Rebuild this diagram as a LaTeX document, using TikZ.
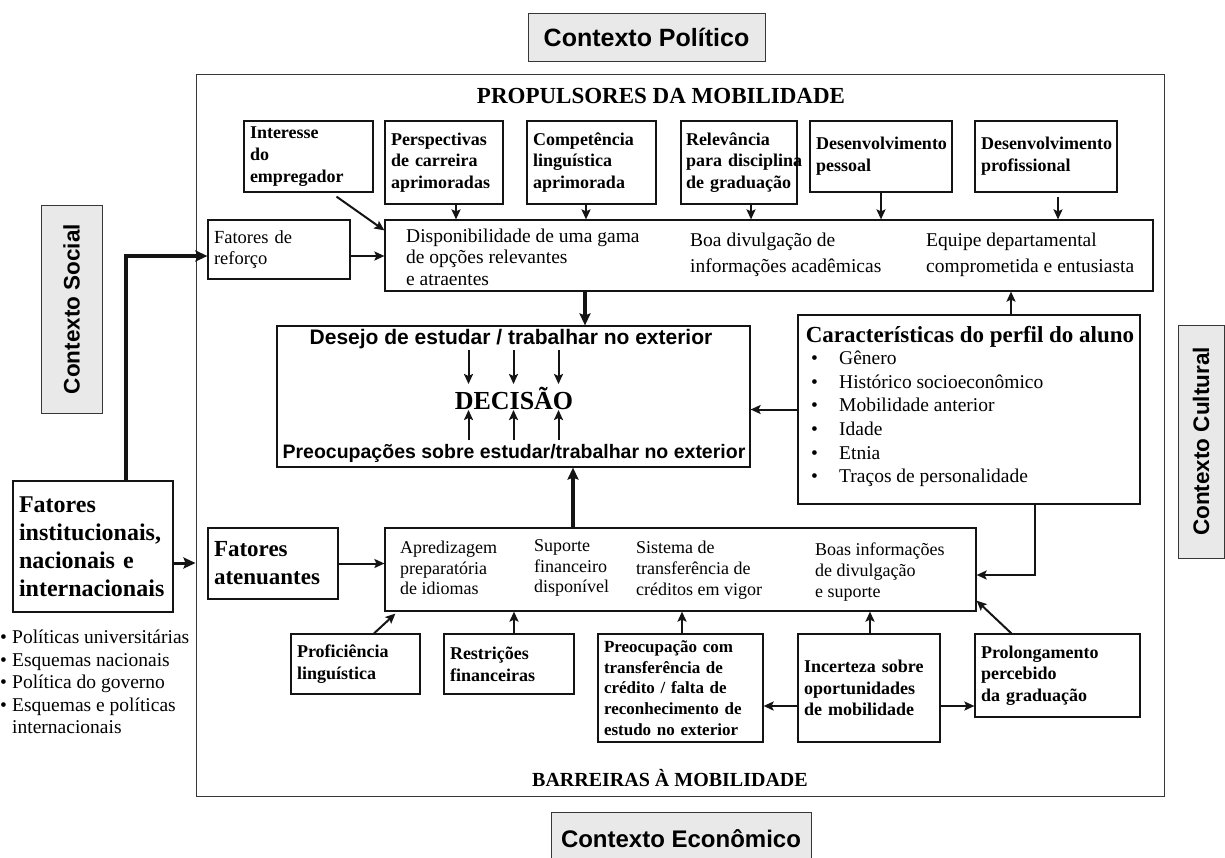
\documentclass[tikz,border=0pt]{standalone}
\usepackage{fontspec}
\setmainfont{Liberation Serif}
\setsansfont{Liberation Sans}
\usepackage{tikz}
\usetikzlibrary{arrows.meta, positioning, calc}
\definecolor{cinzactx}{RGB}{233,233,233}
\definecolor{traco}{RGB}{20,20,20}
\definecolor{borda}{RGB}{55,55,55}
\tikzset{
  ctxbox/.style={rectangle, draw=borda, fill=cinzactx, line width=1pt,
    inner sep=0pt, font=\sffamily\bfseries\fontsize{24}{28}\selectfont},
  caixa/.style={rectangle, draw=traco, line width=1.2pt, inner xsep=6pt,
    inner ysep=2pt, align=left, font=\bfseries\fontsize{18}{21.7}\selectfont},
  caixafina/.style={caixa, font=\fontsize{18.5}{21.7}\selectfont},
  vazio/.style={rectangle, draw=traco, line width=1.2pt, inner sep=0pt},
  texto/.style={inner sep=0pt, align=left, font=\fontsize{19.5}{21.5}\selectfont},
  textomenor/.style={inner sep=0pt, align=left, font=\fontsize{18}{20.8}\selectfont},
  titulo/.style={inner sep=0pt, font=\bfseries\fontsize{22}{26}\selectfont},
  arrow/.style={-{Stealth[length=10pt,width=9pt,inset=2pt]}, line width=2pt, color=traco},
  thickarrow/.style={-{Stealth[length=12pt,width=11pt,inset=2pt]}, line width=3.5pt, color=traco}
}

\begin{document}
\hyphenpenalty=10000
\begin{tikzpicture}[x=1pt, y=-1pt]
  \useasboundingbox (0,0) rectangle (1225,857);
  % contextos
  \node[ctxbox, minimum width=237pt, minimum height=48pt, font=\sffamily\bfseries\fontsize{25}{30}\selectfont] (politico) at (646.5,37) {Contexto Político};
  \node[ctxbox, minimum width=260pt, minimum height=54pt] (economico) at (681,839) {Contexto Econômico};
  \node[ctxbox, rotate=90, minimum width=208pt, minimum height=61pt, font=\sffamily\bfseries\fontsize{22.5}{26}\selectfont] (social) at (71.5,309) {Contexto Social};
  \node[ctxbox, rotate=90, minimum width=233pt, minimum height=46pt, font=\sffamily\bfseries\fontsize{22.5}{26}\selectfont] (cultural) at (1201,441.5) {Contexto Cultural};
  % moldura
  \node[draw=borda, line width=1pt, minimum width=968pt, minimum height=722pt] (moldura) at (680,435) {};
  \node[titulo, font=\bfseries\fontsize{23}{26}\selectfont] (propulsores) at (661,96) {PROPULSORES DA MOBILIDADE};
  \node[titulo, font=\bfseries\fontsize{20}{24}\selectfont] (barreiras) at (670,778) {BARREIRAS À MOBILIDADE};

  % propulsores
  \node[caixa, text width=117pt, minimum height=71pt] (interesse) at (308.5,156.5) {Interesse\\ do\\ empregador};
  \node[caixa, text width=106pt, minimum height=83pt] (persp) at (444,162.5) {Perspectivas\\ de~carreira\\ aprimoradas};
  \node[caixa, text width=117pt, minimum height=83pt] (compet) at (591.5,162.5) {Competência\\ linguística\\ aprimorada};
  \node[caixa, text width=106pt, minimum height=83pt, inner xsep=5pt] (relev) at (739,162.5) {Relevância\\ para~disciplina\\ de~graduação};
  \node[caixa, text width=130pt, minimum height=71pt] (desenvp) at (881,156.5) {Desenvolvimento\\ pessoal};
  \node[caixa, text width=130pt, minimum height=71pt] (desenvprof) at (1046,156.5) {Desenvolvimento\\ profissional};
  \node[caixafina, text width=130pt, minimum height=59pt] (reforco) at (279,249.5) {Fatores de\\ reforço};

  \node[vazio, minimum width=768pt, minimum height=71pt] (bigtop) at (769,255.5) {};
  \node[texto, anchor=west] (dispon) at (406,257) {Disponibilidade de uma gama\\ de opções relevantes\\ e atraentes};
  \node[texto, anchor=west, font=\fontsize{19.5}{26}\selectfont] (divulg) at (690,255) {Boa divulgação de\\ informações acadêmicas};
  \node[texto, anchor=west, font=\fontsize{19.5}{26}\selectfont] (equipe) at (926,255) {Equipe departamental\\ comprometida e entusiasta};

  % decisao
  \node[vazio, minimum width=473pt, minimum height=141pt] (desejo) at (513.5,396.5) {};
  \node[inner sep=0pt, font=\sffamily\bfseries\fontsize{21}{25}\selectfont] (desejotxt) at (511,339) {Desejo de estudar / trabalhar no exterior};
  \node[inner sep=0pt, font=\bfseries\fontsize{26}{30}\selectfont] (decisao) at (514,398) {DECISÃO};
  \node[inner sep=0pt, font=\sffamily\bfseries\fontsize{19.5}{23}\selectfont] (preocup) at (514,453) {Preocupações sobre estudar/trabalhar no exterior};
  \foreach \dx in {-45,0,45} {
    \draw[arrow] ($(desejo.center)+(\dx,-46.5)$) -- ($(desejo.center)+(\dx,-12.5)$);
    \draw[arrow] ($(desejo.center)+(\dx,43.5)$) -- ($(desejo.center)+(\dx,13.5)$);
  }

  % perfil do aluno
  \node[vazio, minimum width=342pt, minimum height=189pt] (caract) at (969,409.5) {};
  \node[titulo, font=\bfseries\fontsize{23}{26}\selectfont] (caracttit) at (970,337) {Características do perfil do aluno};
  \node[texto, anchor=west, font=\fontsize{19.5}{23.6}\selectfont] (caractlista) at (811,419)
    {\makebox[28pt][l]{\textbullet}Gênero\\ \makebox[28pt][l]{\textbullet}Histórico socioeconômico\\
     \makebox[28pt][l]{\textbullet}Mobilidade anterior\\ \makebox[28pt][l]{\textbullet}Idade\\
     \makebox[28pt][l]{\textbullet}Etnia\\ \makebox[28pt][l]{\textbullet}Traços de personalidade};

  % barreiras
  \node[vazio, minimum width=591pt, minimum height=83pt] (baixo) at (680.5,569.5) {};
  \node[textomenor, anchor=west] (aprend) at (400,568) {Apredizagem\\ preparatória\\ de idiomas};
  \node[textomenor, anchor=west] (suporte) at (534,568) {Suporte\\ financeiro\\ disponível};
  \node[textomenor, anchor=west] (sistema) at (636,570) {Sistema de\\ transferência de\\ créditos em vigor};
  \node[textomenor, anchor=west] (boas) at (815,572) {Boas informações\\ de divulgação\\ e suporte};
  \node[caixa, text width=118pt, minimum height=71pt, font=\bfseries\fontsize{23}{28}\selectfont] (atenuantes) at (273,563.5) {Fatores\\ atenuantes};
  \node[caixa, text width=148pt, minimum height=131pt, font=\bfseries\fontsize{24}{28}\selectfont] (instit) at (93,546.5) {Fatores\\ institucionais,\\ nacionais~e\\ internacionais};
  \node[texto, anchor=west, font=\fontsize{19.5}{22.5}\selectfont] (politicas) at (0,682)
    {\makebox[12pt][l]{\textbullet}Políticas universitárias\\ \makebox[12pt][l]{\textbullet}Esquemas nacionais\\
     \makebox[12pt][l]{\textbullet}Política do governo\\ \makebox[12pt][l]{\textbullet}Esquemas e políticas\\
     \hspace*{12pt}internacionais};

  \node[caixa, text width=117pt, minimum height=60pt] (profic) at (355.5,664) {Proficiência\\ linguística};
  \node[caixa, text width=118pt, minimum height=60pt] (restr) at (509,664) {Restrições\\ financeiras};
  \node[caixa, text width=153pt, minimum height=108pt, font=\bfseries\fontsize{17}{20.6}\selectfont] (preoc) at (680.5,688) {Preocupação com\\ transferência de\\ crédito / falta de\\ reconhecimento de\\ estudo no exterior};
  \node[caixa, text width=130pt, minimum height=108pt] (incert) at (869,688) {Incerteza sobre\\ oportunidades\\ de mobilidade};
  \node[caixa, text width=153pt, minimum height=83pt] (prolong) at (1057.5,675.5) {Prolongamento\\ percebido\\ da graduação};

  % setas de cima
  \draw[arrow] ([xshift=28pt,yshift=-4pt]interesse.south) -- ([yshift=-11pt]bigtop.north west);
  \draw[arrow] ([xshift=12pt]persp.south) -- ([xshift=12pt]persp.south |- bigtop.north);
  \draw[arrow] ([xshift=-5.5pt]compet.south) -- ([xshift=-5.5pt]compet.south |- bigtop.north);
  \draw[arrow] ([xshift=12pt]relev.south) -- ([xshift=12pt]relev.south |- bigtop.north);
  \draw[arrow] (desenvp.south) -- (desenvp.south |- bigtop.north);
  \draw[arrow] ([xshift=12pt,yshift=-4pt]desenvprof.south) -- ([xshift=12pt]desenvprof.south |- bigtop.north);
  \draw[arrow] ([yshift=-6.5pt]reforco.east) -- ([yshift=-6.5pt]reforco.east -| bigtop.west);
  \draw[thickarrow] ([xshift=71.5pt]desejo.north |- bigtop.south) -- ([xshift=71.5pt]desejo.north);
  \draw[arrow] ([xshift=42pt]caract.north) -- ([xshift=42pt]caract.north |- bigtop.south);
  \draw[arrow] (caract.west) -- (caract.west -| desejo.east);
  \draw[arrow] ([xshift=66pt]caract.south) |- ([yshift=-5.5pt]baixo.east);
  % setas de baixo
  \draw[thickarrow] ([xshift=59.5pt]desejo.south |- baixo.north) -- ([xshift=59.5pt]desejo.south);
  \draw[arrow] (atenuantes.east) -- (atenuantes.east -| baixo.west);
  \draw[thickarrow, line width=3pt] ([yshift=-16.5pt]instit.east) -- ([yshift=-16.5pt]instit.east -| moldura.west);
  \draw[thickarrow, line width=4pt] ([xshift=33pt]instit.north) |- ([yshift=-6.5pt]reforco.west);
  \draw[arrow] ([xshift=18.5pt]profic.north) -- ([xshift=11pt,yshift=-2pt]baixo.south west);
  \draw[arrow] ([xshift=5pt]restr.north) -- ([xshift=5pt]restr.north |- baixo.south);
  \draw[arrow] ([xshift=1.5pt]preoc.north) -- ([xshift=1.5pt]preoc.north |- baixo.south);
  \draw[arrow] ([xshift=1pt]incert.north) -- ([xshift=1pt]incert.north |- baixo.south);
  \draw[arrow] ([xshift=37pt]prolong.north west) -- ([yshift=11pt]baixo.south east);
  \draw[arrow] ([yshift=-18pt]incert.west) -- ([yshift=-18pt]incert.west -| preoc.east);
  \draw[arrow] ([yshift=-18pt]incert.east) -- ([yshift=-18pt]incert.east -| prolong.west);
\end{tikzpicture}
\end{document}
